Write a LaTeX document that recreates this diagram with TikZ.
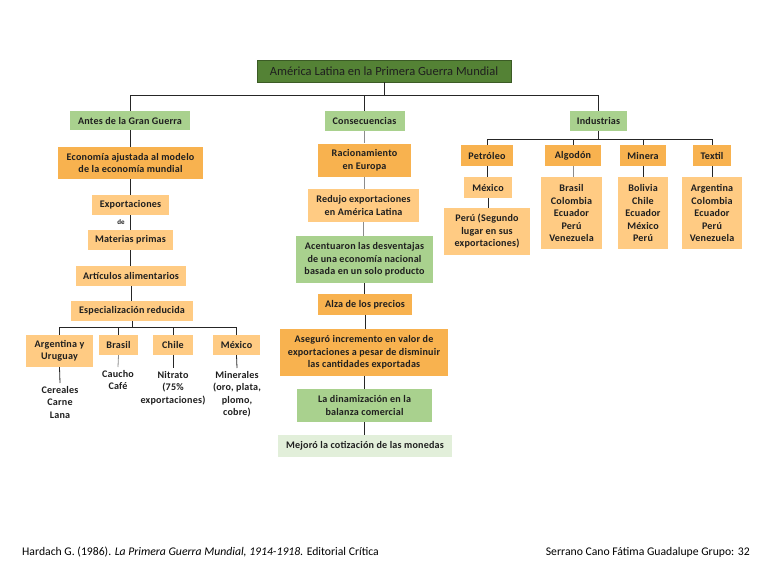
\documentclass[tikz,border=0pt]{standalone}
\usepackage{fontspec}
\setmainfont{Carlito}
\newfontfamily\boxfont{Carlito}[LetterSpace=2]
\usepackage{tikz}

\definecolor{titlegreen}{HTML}{548235}
\definecolor{midgreen}{HTML}{A9D18E}
\definecolor{palegreen}{HTML}{E2EFDA}
\definecolor{darkorange}{HTML}{F8B24F}
\definecolor{lightorange}{HTML}{FFCB83}
\definecolor{softline}{HTML}{8C8C8C}

\begin{document}
\begin{tikzpicture}[x=1pt, y=-1pt,
		box/.style={inner sep=1pt, align=center, text=black!88,
			font=\boxfont\bfseries\fontsize{10.1}{12.5}\selectfont},
		titlebox/.style={box, fill=titlegreen, draw=titlegreen!70!black,
			font=\fontsize{12.5}{14}\selectfont},
		greenbox/.style={box, fill=midgreen},
		paleboxgreen/.style={box, fill=palegreen},
		orangebox/.style={box, fill=darkorange},
		lightbox/.style={box, fill=lightorange},
		plain/.style={box, inner sep=3pt},
		link/.style={draw=black!85, line width=0.8pt},
		softlink/.style={draw=softline, line width=0.8pt}]

		% Frame of the page
		\useasboundingbox (0,0) rectangle (768,576);

		% Title and first level
		\node[titlebox, minimum width=254, minimum height=22] (title) at (384,71) {América Latina en la Primera Guerra Mundial};
		\node[greenbox, minimum width=120, minimum height=19] (antes) at (130,120.5) {Antes de la Gran Guerra};
		\node[greenbox, minimum width=80, minimum height=20] (cons) at (364.5,121) {Consecuencias};
		\node[greenbox, minimum width=57, minimum height=20] (ind) at (598.5,121) {Industrias};

		\draw[link] (title.south) -- ++(0,14);
		\draw[link] (antes.north) -- ++(0,-15) -| (ind.north);
		\draw[link] (cons.north) -- ++(0,-15);

		% Antes de la Gran Guerra
		\node[orangebox, minimum width=145, minimum height=32] (econ) at (130.5,163) {Economía ajustada al modelo\\de la economía mundial};
		\node[lightbox, minimum width=77, minimum height=20] (expo) at (130.5,205) {Exportaciones};
		\node[box, font=\boxfont\bfseries\fontsize{7}{8}\selectfont] (de) at (121,222) {de};
		\node[lightbox, minimum width=85, minimum height=20] (mat) at (130.5,240) {Materias primas};
		\node[lightbox, minimum width=110, minimum height=20] (art) at (131,276) {Artículos alimentarios};
		\node[lightbox, minimum width=122, minimum height=20] (esp) at (132,311) {Especialización reducida};

		\draw[link] (antes.south) -- (antes.south |- econ.north);
		\draw[link] (econ.south) -- (econ.south |- expo.north);
		\draw[link] (expo.south) -- (expo.south |- mat.north);
		\draw[link] (mat.south) -- (mat.south |- art.north);
		\draw[link] (art.south) -- (art.south |- esp.north);

		% Countries
		\node[lightbox, minimum width=67, minimum height=32] (argu) at (59.5,351) {Argentina y\\Uruguay};
		\node[lightbox, minimum width=39, minimum height=20] (bra) at (118.5,345) {Brasil};
		\node[lightbox, minimum width=40, minimum height=20] (chi) at (173,345) {Chile};
		\node[lightbox, minimum width=47, minimum height=20] (mex) at (236.5,345) {México};

		\draw[link] (esp.south) -- ++(0,7);
		\draw[link] (argu.north) -- ++(0,-7) -| (mex.north);
		\draw[link] (bra.north) -- ++(0,-7);
		\draw[link] (chi.north) -- ++(0,-7);

		\node[plain, anchor=north] (argut) at (60,383) {Cereales\\Carne\\Lana};
		\node[plain, anchor=north] (brat) at (118,367) {Caucho\\Café};
		\node[plain, anchor=north] (chit) at (173,368) {Nitrato\\(75\%\\exportaciones)};
		\node[plain, anchor=north] (mext) at (237,368) {Minerales\\(oro, plata,\\plomo,\\cobre)};

		\draw[link] (argu.south) -- (argut.north);
		\draw[softlink] (bra.south) -- (brat.north);
		\draw[link] (chi.south) -- (chit.north);
		\draw[link] (mex.south) -- (mext.north);

		% Consecuencias
		\node[orangebox, minimum width=93, minimum height=33] (rac) at (364.5,160) {Racionamiento\\en Europa};
		\node[lightbox, minimum width=111, minimum height=33] (red) at (363.5,205.5) {Redujo exportaciones\\en América Latina};
		\node[greenbox, minimum width=137, minimum height=47] (acen) at (364.5,259.5) {Acentuaron las desventajas\\de una economía nacional\\basada en un solo producto};
		\node[orangebox, minimum width=94, minimum height=21] (alza) at (365,304.5) {Alza de los precios};
		\node[orangebox, minimum width=168, minimum height=47] (aseg) at (364,352.5) {Aseguró incremento en valor de\\exportaciones a pesar de disminuir\\las cantidades exportadas};
		\node[greenbox, minimum width=135, minimum height=33] (din) at (364.5,405.5) {La dinamización en la\\balanza comercial};
		\node[paleboxgreen, minimum width=174, minimum height=22] (mej) at (365,446) {Mejoró la cotización de las monedas};

		\draw[softlink] (cons.south) -- (cons.south |- rac.north);
		\draw[softlink] (rac.south) -- (rac.south |- red.north);
		\draw[softlink] (red.south) -- (red.south |- acen.north);
		\draw[link] (acen.south) -- (acen.south |- alza.north);
		\draw[link] (alza.south) -- (alza.south |- aseg.north);
		\draw[link] (aseg.south) -- (aseg.south |- din.north);
		\draw[link] (din.south) -- (din.south |- mej.north);

		% Industrias
		\node[orangebox, minimum width=52, minimum height=21] (pet) at (487,155.5) {Petróleo};
		\node[orangebox, minimum width=56, minimum height=21] (alg) at (573,155.5) {Algodón};
		\node[orangebox, minimum width=46, minimum height=21] (min) at (643,155.5) {Minera};
		\node[orangebox, minimum width=38, minimum height=21] (tex) at (712,155.5) {Textil};

		\draw[link] (ind.south) -- ++(0,9);
		\draw[link] (pet.north) -- ++(0,-5) -| (tex.north);
		\draw[link] (alg.north) -- ++(0,-5);
		\draw[link] (min.north) -- ++(0,-5);

		\node[lightbox, minimum width=48, minimum height=21] (petmex) at (488,187.5) {México};
		\node[lightbox, minimum width=86, minimum height=47] (petper) at (487,231.5) {Perú (Segundo\\lugar en sus\\exportaciones)};
		\node[lightbox, minimum width=61, minimum height=72] (algl) at (571.5,213) {Brasil\\Colombia\\Ecuador\\Perú\\Venezuela};
		\node[lightbox, minimum width=50, minimum height=72] (minl) at (643,213) {Bolivia\\Chile\\Ecuador\\México\\Perú};
		\node[lightbox, minimum width=60, minimum height=72] (texl) at (712,213) {Argentina\\Colombia\\Ecuador\\Perú\\Venezuela};

		\draw[link] (pet.south) -- (pet.south |- petmex.north);
		\draw[link] (petmex.south) -- (petmex.south |- petper.north);
		\draw[softlink] (alg.south) -- (alg.south |- algl.north);
		\draw[link] (min.south) -- (min.south |- minl.north);
		\draw[link] (tex.south) -- (tex.south |- texl.north);

		% Footer
		\node[anchor=west, inner sep=0pt, font=\fontsize{11.7}{13}\selectfont] (ref) at (22,552) {Hardach G. (1986). \textit{La Primera Guerra Mundial, 1914-1918.} Editorial Crítica};
		\node[anchor=east, inner sep=0pt, font=\fontsize{11.7}{13}\selectfont] (autor) at (750,552) {Serrano Cano Fátima Guadalupe Grupo: 32};

	\end{tikzpicture}
\end{document}
